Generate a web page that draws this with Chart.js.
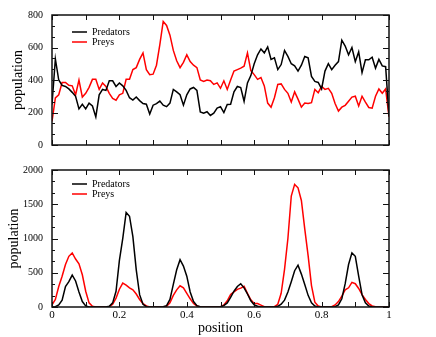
<!DOCTYPE html>
<html><head><meta charset="utf-8">
<script src="https://cdn.jsdelivr.net/npm/chart.js@4.4.1/dist/chart.umd.min.js"></script>
<style>
html,body{margin:0;padding:0;background:#fff;}
#wrap{position:relative;width:436px;height:337px;overflow:hidden;background:#fff;}
canvas{position:absolute;left:0;}
#c1{top:0;width:436px;height:160px;}
#c2{top:155px;width:436px;height:182px;}
</style></head><body>
<div id="wrap"><canvas id="c1" width="436" height="160"></canvas><canvas id="c2" width="436" height="182"></canvas></div>
<script>
// ---- data ----
const positions = Array.from({length: 101}, (_, i) => i / 100);
const seriesNames = ['Predators', 'Preys'];
const topPredators = [250,530,400,367,360,345,324,300,222,250,222,258,240,173,309,342,336,395,395,360,382,364,336,291,276,295,273,255,251,191,245,255,270,245,236,258,342,327,309,245,309,345,354,336,204,196,205,182,196,227,236,
  200,249,251,327,360,354,269,382,427,500,555,591,567,604,527,536,464,495,582,545,500,487,455,491,545,536,422,391,385,345,455,500,464,491,513,645,609,555,600,513,573,445,524,524,540,473,527,487,482,180];
const topPreys = [145,290,309,385,385,367,364,309,400,295,318,355,404,404,342,382,360,318,287,276,309,318,404,404,464,476,527,567,464,433,436,491,618,760,736,676,582,518,476,509,555,513,491,476,400,391,400,396,373,382,349,
  395,342,400,455,464,473,485,567,458,433,404,415,364,258,233,291,373,376,342,318,264,327,282,233,258,255,260,342,322,360,342,349,318,255,209,233,244,269,295,300,240,300,264,231,227,300,345,318,345,173];
const bottomPredators = [0,5,30,100,300,370,465,380,220,80,15,0,0,
  0,0,0,0,
  10,60,230,680,1003,1380,1325,1026,543,180,40,5,
  0,0,0,0,
  5,20,110,330,543,690,598,450,220,80,20,5,
  0,0,0,0,0,
  5,20,60,140,230,300,340,280,190,90,30,10,
  0,0,0,0,0,
  10,40,100,220,370,530,610,480,330,170,60,15,
  0,0,0,0,0,
  5,30,120,340,620,790,740,450,180,60,15,
  0,0,0,0,0,0];
const bottomPreys = [30,110,300,450,620,740,790,700,630,470,230,60,10,
  0,0,0,0,
  5,40,130,260,350,320,280,250,190,110,50,15,
  0,0,0,0,0,
  10,60,170,250,310,280,200,120,50,15,0,
  0,0,0,0,0,
  5,30,90,184,220,258,276,303,198,106,50,50,28,5,0,
  0,5,
  40,200,550,1000,1620,1790,1740,1555,1141,750,313,70,15,
  0,0,0,
  5,30,80,160,250,280,360,340,270,180,110,50,15,5,
  0,0,0,0];
const xTickValues = [0, 0.2, 0.4, 0.6, 0.8, 1];
const xMinorTicks = [0.1, 0.3, 0.5, 0.7, 0.9];
const topYTicks = [0, 200, 400, 600, 800];
const bottomYTicks = [0, 500, 1000, 1500, 2000];

// ---- helpers ----
const SERIF = '"Liberation Serif", "DejaVu Serif", serif';
const colors = ['#000000', '#ff0000'];

function toPts(vals) { return vals.map((v, i) => ({x: positions[i], y: v})); }

const framePlugin = {
  id: 'frameTicks',
  afterDraw(chart, args, opts) {
    const {ctx, chartArea: a} = chart;
    const xs = chart.scales.x, ys = chart.scales.y;
    ctx.save();
    ctx.strokeStyle = '#111';
    ctx.lineWidth = 1.5;
    ctx.strokeRect(a.left, a.top, a.right - a.left, a.bottom - a.top);
    ctx.lineWidth = 1;
    ctx.beginPath();
    const xt = xTickValues.concat(xMinorTicks);
    xt.forEach(v => {
      const p = Math.round(xs.getPixelForValue(v)) + 0.5;
      const L = 5;
      ctx.moveTo(p, a.bottom); ctx.lineTo(p, a.bottom - L);
      ctx.moveTo(p, a.top); ctx.lineTo(p, a.top + L);
    });
    const yt = opts.yTicks;
    for (let k = 0; k < yt.length; k++) {
      const v = yt[k];
      const p = Math.round(ys.getPixelForValue(v)) + 0.5;
      ctx.moveTo(a.left, p); ctx.lineTo(a.left + 6, p);
      ctx.moveTo(a.right, p); ctx.lineTo(a.right - 6, p);
      if (k < yt.length - 1) {
        const step = (yt[k + 1] - v) / 3;
        for (let m = 1; m < 3; m++) {
          const q = Math.round(ys.getPixelForValue(v + m * step)) + 0.5;
          ctx.moveTo(a.left, q); ctx.lineTo(a.left + 3, q);
          ctx.moveTo(a.right, q); ctx.lineTo(a.right - 3, q);
        }
      }
    }
    ctx.stroke();
    // legend
    ctx.font = '10px ' + SERIF;
    ctx.textBaseline = 'middle';
    ctx.textAlign = 'left';
    chart.data.datasets.forEach((ds, i) => {
      const y = a.top + opts.legendTop + i * 10;
      ctx.strokeStyle = ds.borderColor;
      ctx.lineWidth = 1.5;
      ctx.beginPath();
      ctx.moveTo(a.left + 20, y); ctx.lineTo(a.left + 35, y);
      ctx.stroke();
      ctx.fillStyle = '#000';
      ctx.fillText(ds.label, a.left + 40, y + 0.5);
    });
    ctx.restore();
  }
};

function makeChart(id, pred, prey, ymax, ystep, yTicks, opts) {
  const canvas = document.getElementById(id);
  return new Chart(canvas, {
    type: 'line',
    data: {
      datasets: [
        {label: seriesNames[0], data: toPts(pred), borderColor: colors[0], borderWidth: 1.5, pointRadius: 0, tension: 0, fill: false},
        {label: seriesNames[1], data: toPts(prey), borderColor: colors[1], borderWidth: 1.5, pointRadius: 0, tension: 0, fill: false}
      ]
    },
    options: {
      responsive: false,
      animation: false,
      devicePixelRatio: 1,
      layout: {padding: {left: 0, right: 47, top: 7, bottom: 0}},
      plugins: {legend: {display: false}, tooltip: {enabled: false}, frameTicks: {yTicks: yTicks, legendTop: opts.legendTop}},
      scales: {
        x: {
          type: 'linear', min: 0, max: 1,
          grid: {display: false, drawTicks: false},
          border: {display: false},
          ticks: {display: opts.showX, stepSize: 0.2, padding: 2, color: '#000', font: {family: SERIF, size: 11}, maxRotation: 0,
            callback: v => String(Math.round(v * 10) / 10)},
          title: {display: opts.showX, text: 'position', color: '#000', font: {family: SERIF, size: 14}, padding: {top: 0, bottom: 0}},
          afterFit: s => { s.height = opts.xHeight; }
        },
        y: {
          min: 0, max: ymax,
          grid: {display: false, drawTicks: false},
          border: {display: false},
          ticks: {stepSize: ystep, padding: 9, color: '#000', font: {family: SERIF, size: 10},
            callback: v => String(v)},
          title: {display: true, text: 'population', color: '#000', font: {family: SERIF, size: 14}, padding: {top: opts.titlePad, bottom: 0}},
          afterFit: s => { s.width = 52; }
        }
      }
    },
    plugins: [framePlugin]
  });
}

makeChart('c1', topPredators, topPreys, 800, 200, topYTicks, {showX: false, xHeight: 7, legendTop: 17, titlePad: 9.6});
makeChart('c2', bottomPredators, bottomPreys, 2000, 500, bottomYTicks, {showX: true, xHeight: 30, legendTop: 14, titlePad: 6});
</script>
</body></html>
